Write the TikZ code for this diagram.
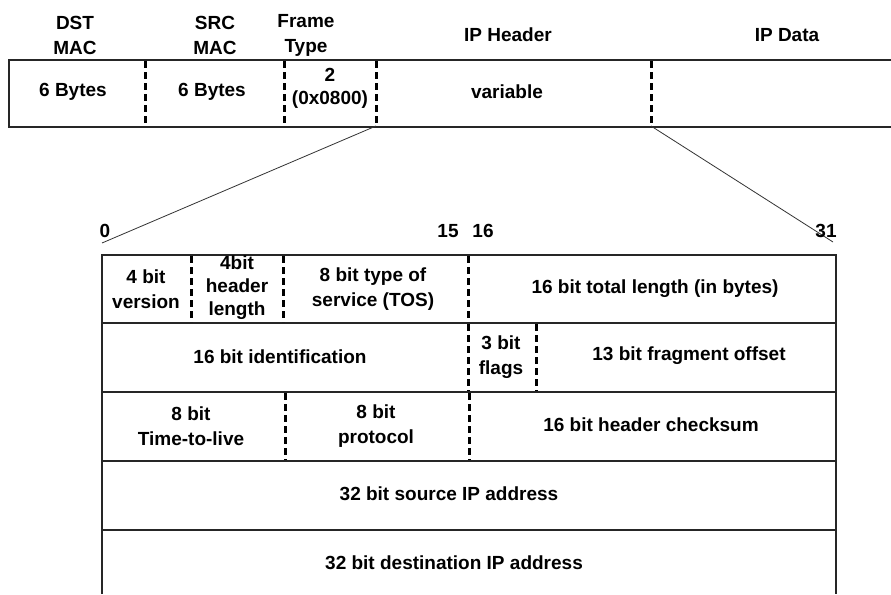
\documentclass[tikz,border=0pt]{standalone}
\usepackage{fontspec}
\setmainfont{Liberation Sans}
\begin{document}
\begin{tikzpicture}[x=1pt,y=-1pt,
  frameline/.style={line width=1.8pt,draw=black!85},
  divline/.style={line width=3pt,draw=black,dash pattern=on 7pt off 4pt},
  zoomline/.style={line width=0.8pt,draw=black!80},
  lbl/.style={font=\bfseries\fontsize{19}{25}\selectfont,align=center,inner sep=0pt,text=black},
  lbltight/.style={font=\bfseries\fontsize{19}{23}\selectfont,align=center,inner sep=0pt,text=black}]
\useasboundingbox[fill=white] (0,0) rectangle (891,594);
% ---------- Ethernet frame ----------
\coordinate (ftl) at (9,60);
\coordinate (fbl) at (9,127);
\coordinate (ftr) at (891,60);
\coordinate (fbr) at (891,127);
\draw[frameline] (ftr) -- (ftl) -- (fbl) -- (fbr);
\foreach \n/\x in {d1/145,d2/284,d3/376,d4/651}{
  \coordinate (\n t) at (\x,61);
  \coordinate (\n b) at (\x,126);
  \draw[divline] (\n t) -- (\n b);
}
\node[lbl] (dstmac) at (75,35) {DST\\MAC};
\node[lbl] (srcmac) at (215,35) {SRC\\MAC};
\node[lbl] (ftype) at (306,35) {Frame\\Type};
\node[lbl] (iphdr) at (508,35) {IP Header};
\node[lbl] (ipdata) at (787,35) {IP Data};
\node[lbl] (b1) at (73,92) {6 Bytes};
\node[lbl] (b2) at (212,92) {6 Bytes};
\node[lbltight] (b3) at (330,88) {2\\(0x0800)};
\node[lbl] (b4) at (507,92) {variable};
% ---------- zoom lines ----------
\coordinate (zl) at (102,243);
\coordinate (zr) at (833,242);
\draw[zoomline] (d3b) -- (zl);
\draw[zoomline] (d4b) -- (zr);
\node[lbl] (n0) at (105,231) {0};
\node[lbl] (n15) at (448,231) {15};
\node[lbl] (n16) at (483,231) {16};
\node[lbl] (n31) at (826,231) {31};
% ---------- IP header table ----------
\coordinate (tl) at (102,255);
\coordinate (tr) at (836,255);
\coordinate (bl) at (102,594);
\coordinate (br) at (836,594);
\draw[frameline] (bl) -- (tl) -- (tr) -- (br);
\foreach \n/\y in {r1/323,r2/392,r3/461,r4/530}{
  \coordinate (\n l) at (102,\y);
  \coordinate (\n r) at (836,\y);
  \draw[frameline] (\n l) -- (\n r);
}
% row 1 dividers
\draw[divline] (191,256) -- (191,322);
\draw[divline] (283,256) -- (283,322);
\draw[divline] (468,256) -- (468,322);
% row 2 dividers
\draw[divline] (468,324) -- (468,391);
\draw[divline] (536,324) -- (536,391);
% row 3 dividers
\draw[divline] (285,393) -- (285,460);
\draw[divline] (469,393) -- (469,460);
% row texts
\node[lbl] (ver) at (146,289) {4 bit\\version};
\node[lbltight] (hlen) at (237,288) {4bit\\header\\length};
\node[lbl] (tos) at (373,289) {8 bit type of\\service (TOS)};
\node[lbl] (tlen) at (655,289) {16 bit total length (in bytes)};
\node[lbl] (ident) at (280,357) {16 bit identification};
\node[lbl] (flags) at (501,357) {3 bit\\flags};
\node[lbl] (frag) at (689,356) {13 bit fragment offset};
\node[lbl] (ttl) at (191,426) {8 bit\\Time-to-live};
\node[lbl] (proto) at (376,426) {8 bit\\protocol};
\node[lbl] (csum) at (651,425) {16 bit header checksum};
\node[lbl] (src) at (449,494) {32 bit source IP address};
\node[lbl] (dst) at (454,563) {32 bit destination IP address};
\end{tikzpicture}
\end{document}
